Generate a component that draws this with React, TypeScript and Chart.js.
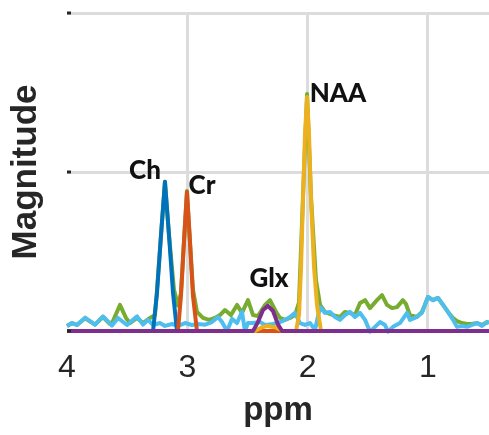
import React, { useEffect, useRef } from "react";
import { Chart, registerables } from "chart.js";

Chart.register(...registerables);

// ---- axis / labels ----
const xTickValues = [4, 3, 2, 1];
const yTickValues = [0, 0.5, 1];
const xTitle = "ppm";
const yTitle = "Magnitude";
const xMin = 0.493;
const xMax = 4;

// ---- green (full spectrum) ----
const greenPpm = [
  4.0, 3.958, 3.917, 3.85, 3.767, 3.701, 3.643, 3.618, 3.56, 3.51, 3.476, 3.418, 3.368, 3.31, 3.269,
  3.252, 3.219, 3.186, 3.152, 3.111, 3.078, 3.053, 3.028, 3.003, 2.978, 2.953, 2.92, 2.87, 2.82, 2.77,
  2.729, 2.687, 2.637, 2.587, 2.546, 2.496, 2.454, 2.413, 2.354, 2.313, 2.271, 2.23, 2.188, 2.147, 2.105,
  2.072, 2.039, 2.005, 1.972, 1.931, 1.897, 1.856, 1.789, 1.731, 1.69, 1.648, 1.607, 1.565, 1.523, 1.482,
  1.424, 1.382, 1.341, 1.299, 1.258, 1.208, 1.183, 1.15, 1.092, 1.05, 1.0, 0.959, 0.917, 0.875, 0.834,
  0.792, 0.759, 0.717, 0.675, 0.634, 0.592, 0.551, 0.509, 0.493,
];
const greenVal = [
  0.016, 0.025, 0.019, 0.04, 0.02, 0.044, 0.022, 0.031, 0.082, 0.041, 0.025, 0.041, 0.025, 0.041, 0.05,
  0.13, 0.3, 0.469, 0.3, 0.13, 0.08, 0.12, 0.28, 0.44, 0.28, 0.13, 0.06, 0.041, 0.035, 0.041,
  0.05, 0.066, 0.05, 0.082, 0.057, 0.097, 0.05, 0.047, 0.082, 0.097, 0.066, 0.041, 0.035, 0.041, 0.05,
  0.09, 0.42, 0.745, 0.42, 0.16, 0.082, 0.06, 0.05, 0.044, 0.06, 0.057, 0.05, 0.088, 0.097, 0.072,
  0.097, 0.113, 0.082, 0.072, 0.075, 0.097, 0.085, 0.05, 0.044, 0.06, 0.107, 0.097, 0.104, 0.082, 0.06,
  0.041, 0.031, 0.025, 0.022, 0.022, 0.025, 0.019, 0.028, 0.025,
];

// ---- light blue (residual / noise) ----
const cyanPpm = [
  4.0, 3.958, 3.917, 3.85, 3.767, 3.701, 3.626, 3.576, 3.501, 3.418, 3.368, 3.327, 3.285, 3.227, 3.186,
  3.127, 3.078, 3.019, 2.961, 2.911, 2.853, 2.795, 2.745, 2.712, 2.67, 2.629, 2.587, 2.546, 2.521, 2.496,
  2.454, 2.396, 2.354, 2.288, 2.23, 2.188, 2.147, 2.105, 2.064, 2.022, 1.981, 1.939, 1.897, 1.856, 1.814,
  1.773, 1.731, 1.69, 1.648, 1.607, 1.565, 1.523, 1.482, 1.44, 1.399, 1.357, 1.332, 1.291, 1.233, 1.174,
  1.15, 1.108, 1.05, 1.0, 0.959, 0.917, 0.875, 0.834, 0.792, 0.759, 0.717, 0.675, 0.634, 0.592, 0.551,
  0.509, 0.493,
];
const cyanVal = [
  0.016, 0.025, 0.019, 0.042, 0.02, 0.046, 0.017, 0.041, 0.019, 0.046, 0.02, 0.035, 0.019, 0.025, 0.016,
  0.022, 0.016, 0.025, 0.019, 0.022, 0.02, 0.028, 0.044, 0.028, 0.0, 0.038, 0.025, 0.06, 0.0, 0.025,
  0.025, 0.028, 0.019, 0.022, 0.028, 0.035, 0.044, 0.057, 0.025, 0.019, 0.025, 0.004, 0.075, 0.057, 0.06,
  0.044, 0.035, 0.05, 0.06, 0.044, 0.057, 0.035, -0.002, 0.013, 0.028, 0.019, -0.002, 0.013, 0.025, 0.057,
  0.035, 0.041, 0.057, 0.107, 0.097, 0.104, 0.082, 0.06, 0.035, 0.013, 0.016, 0.013, 0.019, 0.025, 0.016,
  0.028, 0.025,
];

// ---- Ch (dark blue) ----
const chPpm = [4.0, 3.285, 3.252, 3.219, 3.186, 3.152, 3.119, 3.086, 0.493];
const chVal = [0, 0, 0.12, 0.3, 0.469, 0.3, 0.12, 0, 0];

// ---- Cr (orange) ----
const crPpm = [4.0, 3.078, 3.053, 3.028, 3.003, 2.978, 2.953, 2.92, 0.493];
const crVal = [0, 0, 0.11, 0.28, 0.437, 0.28, 0.11, 0, 0];

// ---- NAA (gold) ----
const naaPpm = [4.0, 2.438, 2.379, 2.33, 2.271, 2.205, 2.097, 2.072, 2.055, 2.039, 2.022, 2.005, 1.989, 1.972, 1.947, 1.922, 1.889, 0.493];
const naaVal = [0, 0, 0.012, 0.016, 0.012, 0, 0, 0.05, 0.2, 0.412, 0.62, 0.736, 0.62, 0.412, 0.2, 0.08, 0, 0];

// ---- Glx (purple) ----
const glxPpm = [4.0, 2.454, 2.413, 2.371, 2.33, 2.288, 2.246, 2.213, 0.493];
const glxVal = [0, 0, 0.028, 0.066, 0.079, 0.063, 0.02, 0, 0];

// ---- peak annotations (data coordinates) ----
const peakLabels = ["Ch", "Cr", "Glx", "NAA"];
const peakLabelPpm = [3.352, 2.878, 2.321, 1.748];
const peakLabelVal = [0.503, 0.456, 0.164, 0.748];

const toPoints = (xs: number[], ys: number[]) => xs.map((x, i) => ({ x, y: ys[i] }));

const overlayPlugin = {
  id: "overlay",
  afterDatasetsDraw(chart: any) {
    const { ctx, chartArea, scales } = chart;
    ctx.save();
    ctx.strokeStyle = "#262626";
    ctx.lineWidth = 3;
    yTickValues.forEach((v) => {
      const y = scales.y.getPixelForValue(v);
      ctx.beginPath();
      ctx.moveTo(chartArea.left, y);
      ctx.lineTo(chartArea.left + 4, y);
      ctx.stroke();
    });
    ctx.font = "900 26px Lato";
    ctx.fillStyle = "#111111";
    ctx.textAlign = "center";
    ctx.textBaseline = "middle";
    peakLabels.forEach((t, i) => {
      ctx.fillText(t, scales.x.getPixelForValue(peakLabelPpm[i]), scales.y.getPixelForValue(peakLabelVal[i]));
    });
    ctx.restore();
  },
};

export default function App() {
  const canvasRef = useRef<HTMLCanvasElement | null>(null);

  useEffect(() => {
    if (!canvasRef.current) return;
    const lw = 4;
    const common = { pointRadius: 0, tension: 0, borderWidth: lw, clip: false as any, fill: false, borderJoinStyle: "round" as any };
    const chart = new Chart(canvasRef.current, {
      type: "line",
      data: {
        datasets: [
          { ...common, label: "Glx", data: toPoints(glxPpm, glxVal), borderColor: "#7E2F8E" },
          { ...common, label: "NAA", data: toPoints(naaPpm, naaVal), borderColor: "#EDB120" },
          { ...common, label: "Cr", data: toPoints(crPpm, crVal), borderColor: "#D95319" },
          { ...common, label: "Ch", data: toPoints(chPpm, chVal), borderColor: "#0072BD" },
          { ...common, label: "Residual", data: toPoints(cyanPpm, cyanVal), borderColor: "#4DBEEE" },
          { ...common, label: "Spectrum", data: toPoints(greenPpm, greenVal), borderColor: "#77AC30" },
        ],
      },
      options: {
        responsive: false,
        animation: false,
        devicePixelRatio: 1,
        layout: { padding: { top: 13, left: 0, right: 0, bottom: 0 } },
        plugins: { legend: { display: false }, tooltip: { enabled: false }, title: { display: false } },
        scales: {
          x: {
            type: "linear",
            reverse: true,
            min: xMin,
            max: xMax,
            afterFit: (s: any) => {
              s.height = 104;
            },
            afterBuildTicks: (s: any) => {
              s.ticks = xTickValues.map((v) => ({ value: v }));
            },
            border: { display: false },
            grid: {
              color: (c: any) => (c.tick && c.tick.value === 4 ? "rgba(0,0,0,0)" : "#dcdcdc"),
              lineWidth: 3,
              drawTicks: false,
            },
            ticks: {
              includeBounds: false,
              autoSkip: false,
              maxRotation: 0,
              padding: 18,
              color: "#262626",
              font: { family: "'Liberation Sans', Arial, sans-serif", size: 32, lineHeight: 1.2 },
              callback: (v: any) => String(v),
            },
            title: {
              display: true,
              text: xTitle,
              color: "#262626",
              font: { family: "'Liberation Sans', Arial, sans-serif", size: 33, weight: "bold", lineHeight: 1 },
              padding: { top: 0, bottom: 7.5 },
            },
          },
          y: {
            type: "linear",
            min: 0,
            max: 1,
            afterFit: (s: any) => {
              s.width = 67;
            },
            afterBuildTicks: (s: any) => {
              s.ticks = yTickValues.map((v) => ({ value: v }));
            },
            border: { display: false },
            grid: { color: "#dcdcdc", lineWidth: 3, drawTicks: false },
            ticks: { display: false },
            title: {
              display: true,
              text: yTitle,
              color: "#262626",
              font: { family: "'Liberation Sans', Arial, sans-serif", size: 35, weight: "bold", lineHeight: 1.2 },
              padding: { top: 5, bottom: 0 },
            },
          },
        },
      },
      plugins: [overlayPlugin],
    } as any);
    return () => chart.destroy();
  }, []);

  return (
    <div style={{ position: "absolute", left: 0, top: 0, width: 489, height: 435, background: "#ffffff" }}>
      <canvas ref={canvasRef} width={489} height={435} style={{ display: "block" }} />
    </div>
  );
}
